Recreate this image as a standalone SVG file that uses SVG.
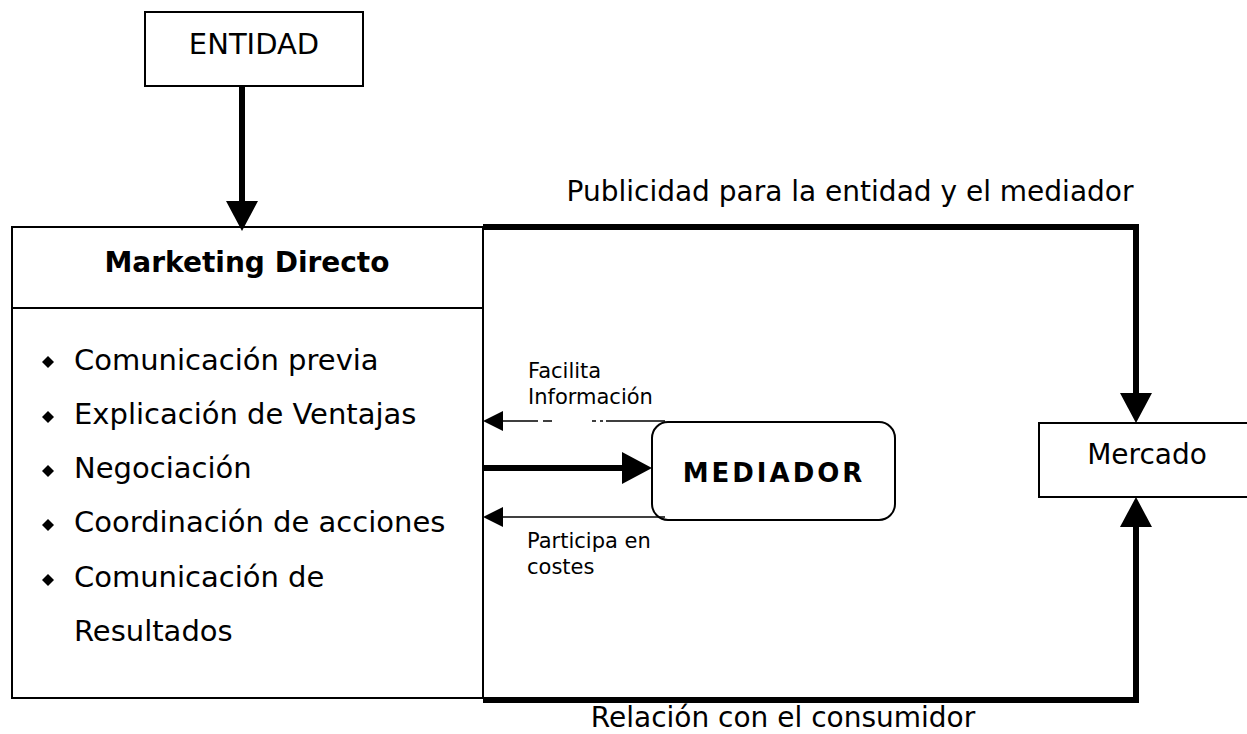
<svg xmlns="http://www.w3.org/2000/svg" width="1247" height="734" viewBox="0 0 1247 734">
<style>
.box{fill:#fff;stroke:#000;stroke-width:2}
.t{font-family:"DejaVu Sans","Liberation Sans",sans-serif;fill:#000}
.thick{fill:none;stroke:#000;stroke-width:6;stroke-linejoin:miter}
.thin{fill:none;stroke:#000;stroke-width:1.6}
</style>
<defs>
<marker id="big" viewBox="0 0 30 32" refX="0" refY="16" markerWidth="30" markerHeight="32" markerUnits="userSpaceOnUse" orient="auto">
<path d="M0 0 L30 16 L0 32 Z" fill="#000"/>
</marker>
<marker id="small" viewBox="0 0 20 20" refX="0" refY="10" markerWidth="20" markerHeight="20" markerUnits="userSpaceOnUse" orient="auto">
<path d="M0 0 L20 10 L0 20 Z" fill="#000"/>
</marker>
</defs>
<rect width="1247" height="734" fill="#fff"/>

<g id="entidad">
<rect class="box" x="145" y="12" width="218" height="74"/>
<text class="t" x="254" y="54" font-size="29" text-anchor="middle">ENTIDAD</text>
</g>

<g id="marketing">
<rect class="box" x="12" y="227" width="471" height="471"/>
<line x1="12" y1="308" x2="483" y2="308" stroke="#000" stroke-width="2"/>
<text class="t" x="247" y="272" font-size="28" font-weight="bold" text-anchor="middle">Marketing Directo</text>
<g fill="#000">
<path d="M48 356 L54 362 L48 368 L42 362 Z"/>
<path d="M48 411 L54 417 L48 423 L42 417 Z"/>
<path d="M48 465 L54 471 L48 477 L42 471 Z"/>
<path d="M48 519 L54 525 L48 531 L42 525 Z"/>
<path d="M48 574 L54 580 L48 586 L42 580 Z"/>
</g>
<g class="t" font-size="29">
<text x="74" y="370">Comunicación previa</text>
<text x="74" y="424">Explicación de Ventajas</text>
<text x="74" y="478">Negociación</text>
<text x="74" y="532">Coordinación de acciones</text>
<text x="74" y="587">Comunicación de</text>
<text x="74" y="641">Resultados</text>
</g>
</g>

<g id="mediador">
<rect class="box" x="652" y="422" width="243" height="98" rx="16" ry="16"/>
<text class="t" x="774" y="482" font-size="26" font-weight="bold" letter-spacing="3" text-anchor="middle">MEDIADOR</text>
</g>

<g id="mercado">
<rect class="box" x="1039" y="423" width="230" height="74"/>
<text class="t" x="1147" y="464" font-size="28" text-anchor="middle">Mercado</text>
</g>

<g id="connectors">
<path class="thick" d="M242 86 V201" marker-end="url(#big)"/>
<path class="thick" d="M483 227 H1136 V393" marker-end="url(#big)"/>
<path class="thick" d="M483 700 H1136 V527" marker-end="url(#big)"/>
<path class="thick" d="M483 468 H622" marker-end="url(#big)"/>
<path class="thin" d="M665 421 H503" stroke-dasharray="59 3 3 4 4 40 9 5 35" marker-end="url(#small)"/>
<path class="thin" d="M665 517 H503" stroke-width="2" marker-end="url(#small)"/>
</g>

<g id="labels" class="t">
<text x="850" y="201" font-size="28" text-anchor="middle">Publicidad para la entidad y el mediador</text>
<text x="783" y="727" font-size="28" text-anchor="middle">Relación con el consumidor</text>
<text x="528" y="378" font-size="21">Facilita</text>
<text x="528" y="404" font-size="21">Información</text>
<text x="527" y="548" font-size="21">Participa en</text>
<text x="527" y="574" font-size="21">costes</text>
</g>
</svg>
